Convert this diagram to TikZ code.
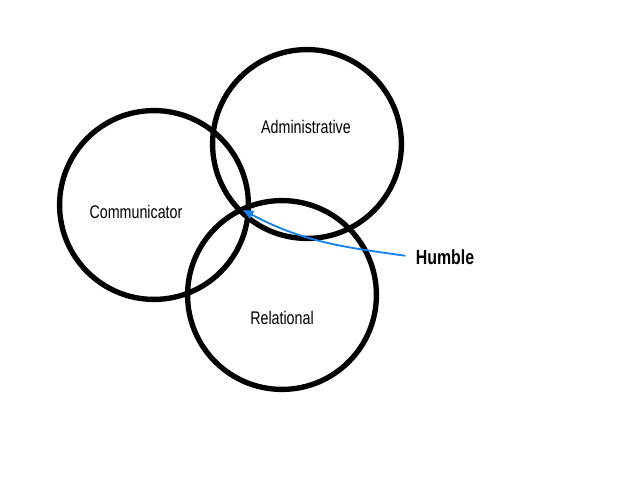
\documentclass[tikz,border=0pt]{standalone}
\usepackage{fontspec}
\setmainfont{Liberation Sans}[FakeStretch=0.78]
\usepackage{tikz}
\usetikzlibrary{arrows.meta}
\definecolor{humbleblue}{RGB}{20,130,245}

\begin{document}
\begin{tikzpicture}[x=0.025cm, y=0.025cm, >=Latex,
  ring/.style={draw=black, line width=3.8pt, circle, minimum size=4.72cm, inner sep=0pt},
  lbl/.style={font=\fontsize{13}{15}\selectfont, inner sep=1pt},
  tag/.style={font=\fontsize{14.5}{16}\selectfont\bfseries, inner sep=1pt},
  pointer/.style={draw=humbleblue, line width=1.3pt, shorten <=2.2mm,
                  -{Triangle[length=2.6mm,width=2.2mm]}}]
\useasboundingbox (0,0) rectangle (640,-477);
% the three circles
\node[ring] (comm) at (154,-205) {};
\node[ring] (admin) at (307,-144) {};
\node[ring] (rel) at (282,-295) {};
% labels
\node[lbl] (commtxt) at (136,-212) {Communicator};
\node[lbl] (admintxt) at (306,-127) {Administrative};
\node[lbl] (reltxt) at (282,-318) {Relational};
\node[tag] (humble) at (445,-257) {Humble};
\coordinate (hub) at (243,-210);
\draw[pointer] (humble.west) to[out=172, in=-28] (hub);
\end{tikzpicture}
\end{document}
